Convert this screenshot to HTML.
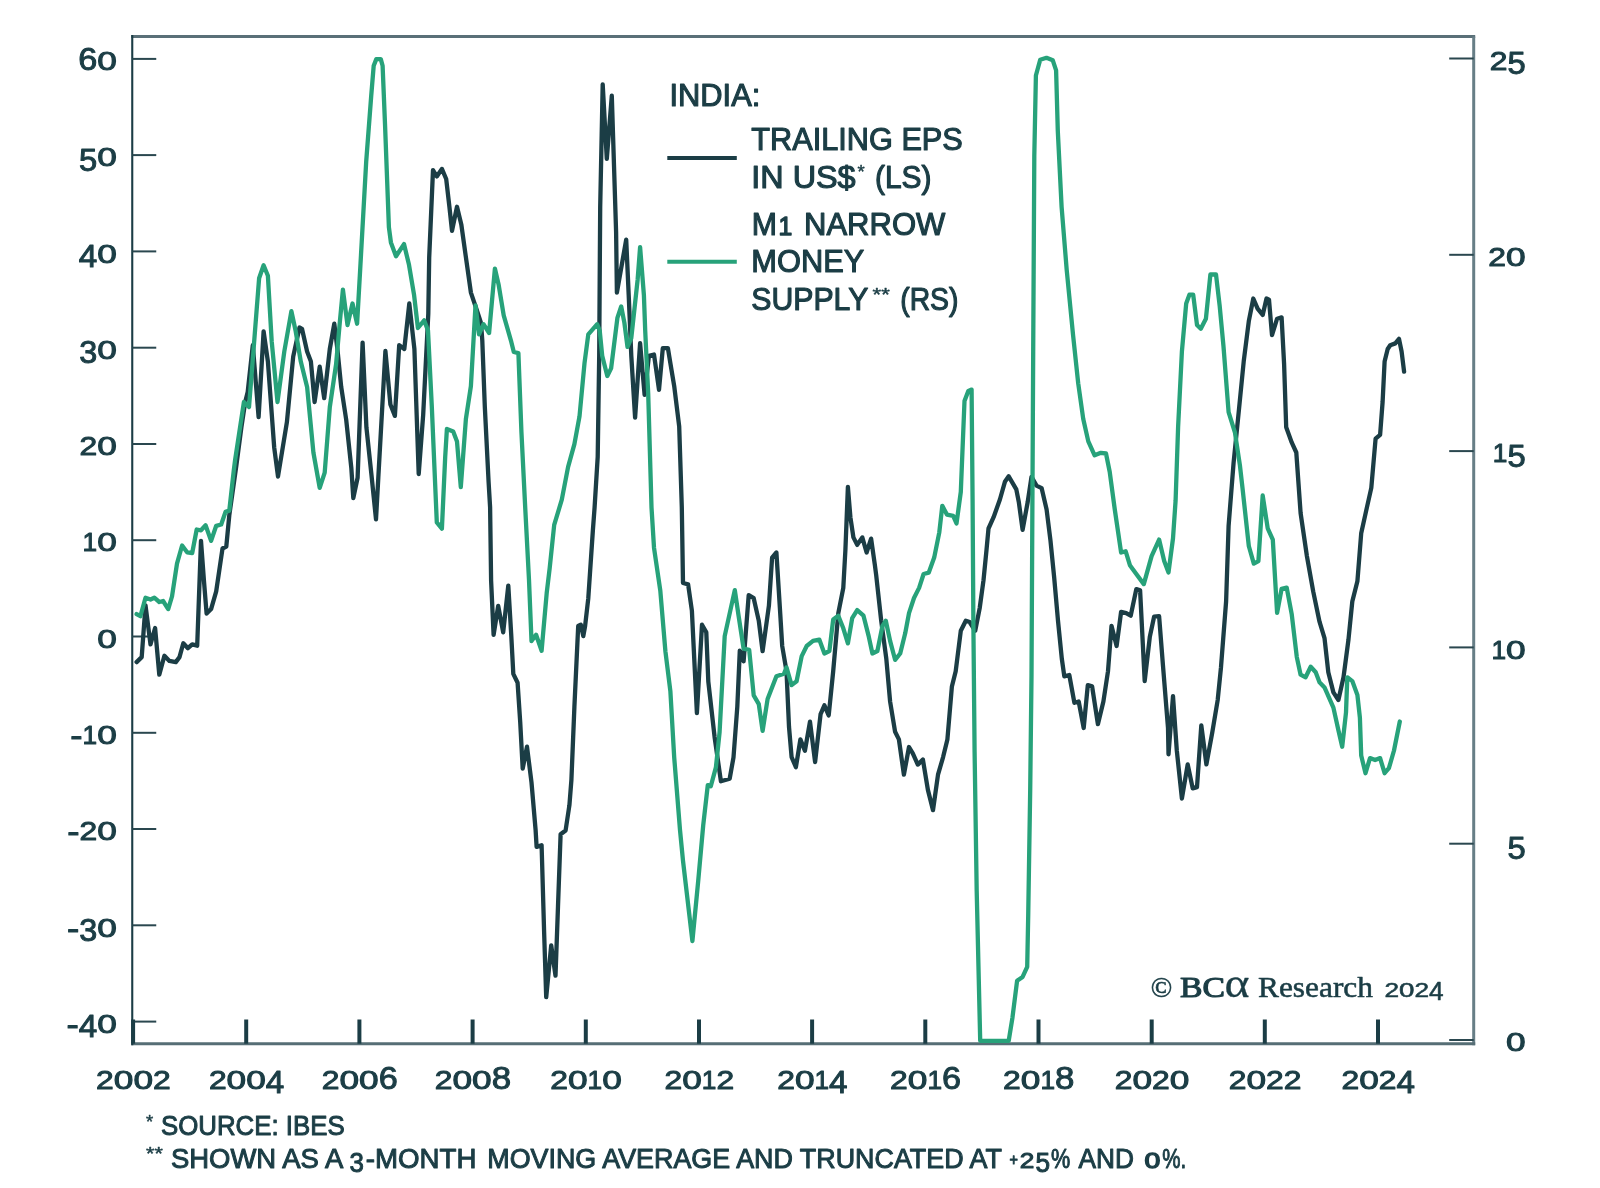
<!DOCTYPE html>
<html lang="en"><head><meta charset="utf-8"><title>India: Trailing EPS vs M1 Narrow Money Supply</title>
<style>html,body{margin:0;padding:0;background:#fff}svg{display:block;filter:blur(.45px)}text{font-family:"Liberation Sans", Arial, Helvetica, sans-serif;fill:#1b3d45}.t{stroke:#1b3d45;stroke-width:1.15px;paint-order:stroke fill;stroke-linejoin:round}.n{stroke:#1b3d45;stroke-width:1px;paint-order:stroke fill;stroke-linejoin:round}.f{stroke:#1b3d45;stroke-width:1px;paint-order:stroke fill;stroke-linejoin:round}.s{font-family:"Liberation Serif", "Times New Roman", serif}.c1{stroke:#1b3d45;stroke-width:.3px}.c2{stroke:#1b3d45;stroke-width:.55px}.c3{stroke:#1b3d45;stroke-width:1.1px;stroke-linejoin:round}</style></head><body>
<svg width="1600" height="1188" viewBox="0 0 1600 1188">
<rect width="1600" height="1188" fill="#ffffff"/>
<g fill="none" stroke-linecap="butt">
<line x1="131.25" y1="36.5" x2="1475.2" y2="36.5" stroke="#5a7078" stroke-width="3"/>
<line x1="1473.7" y1="36.5" x2="1473.7" y2="1045.2" stroke="#677e86" stroke-width="3"/>
<line x1="131.25" y1="1043.7" x2="1475.2" y2="1043.7" stroke="#566e75" stroke-width="3"/>
<line x1="132.25" y1="35.0" x2="132.25" y2="1045.2" stroke="#1b3d45" stroke-width="2.1"/>
<line x1="132.25" y1="1021.6" x2="156.25" y2="1021.6" stroke="#2a474f" stroke-width="2"/>
<line x1="132.25" y1="925.3" x2="156.25" y2="925.3" stroke="#2a474f" stroke-width="2"/>
<line x1="132.25" y1="829.0" x2="156.25" y2="829.0" stroke="#2a474f" stroke-width="2"/>
<line x1="132.25" y1="732.8" x2="156.25" y2="732.8" stroke="#2a474f" stroke-width="2"/>
<line x1="132.25" y1="636.5" x2="156.25" y2="636.5" stroke="#2a474f" stroke-width="2"/>
<line x1="132.25" y1="540.2" x2="156.25" y2="540.2" stroke="#2a474f" stroke-width="2"/>
<line x1="132.25" y1="444.0" x2="156.25" y2="444.0" stroke="#2a474f" stroke-width="2"/>
<line x1="132.25" y1="347.7" x2="156.25" y2="347.7" stroke="#2a474f" stroke-width="2"/>
<line x1="132.25" y1="251.4" x2="156.25" y2="251.4" stroke="#2a474f" stroke-width="2"/>
<line x1="132.25" y1="155.1" x2="156.25" y2="155.1" stroke="#2a474f" stroke-width="2"/>
<line x1="132.25" y1="58.9" x2="156.25" y2="58.9" stroke="#2a474f" stroke-width="2"/>
<line x1="1449.2" y1="1040.0" x2="1473.7" y2="1040.0" stroke="#2a474f" stroke-width="2"/>
<line x1="1449.2" y1="843.7" x2="1473.7" y2="843.7" stroke="#2a474f" stroke-width="2"/>
<line x1="1449.2" y1="647.4" x2="1473.7" y2="647.4" stroke="#2a474f" stroke-width="2"/>
<line x1="1449.2" y1="451.1" x2="1473.7" y2="451.1" stroke="#2a474f" stroke-width="2"/>
<line x1="1449.2" y1="254.8" x2="1473.7" y2="254.8" stroke="#2a474f" stroke-width="2"/>
<line x1="1449.2" y1="58.5" x2="1473.7" y2="58.5" stroke="#2a474f" stroke-width="2"/>
<line x1="133.1" y1="1019.5" x2="133.1" y2="1043.7" stroke="#1b3d45" stroke-width="4"/>
<line x1="246.2" y1="1019.5" x2="246.2" y2="1043.7" stroke="#1b3d45" stroke-width="4"/>
<line x1="359.4" y1="1019.5" x2="359.4" y2="1043.7" stroke="#1b3d45" stroke-width="4"/>
<line x1="472.6" y1="1019.5" x2="472.6" y2="1043.7" stroke="#1b3d45" stroke-width="4"/>
<line x1="585.8" y1="1019.5" x2="585.8" y2="1043.7" stroke="#1b3d45" stroke-width="4"/>
<line x1="699.0" y1="1019.5" x2="699.0" y2="1043.7" stroke="#1b3d45" stroke-width="4"/>
<line x1="812.1" y1="1019.5" x2="812.1" y2="1043.7" stroke="#1b3d45" stroke-width="4"/>
<line x1="925.3" y1="1019.5" x2="925.3" y2="1043.7" stroke="#1b3d45" stroke-width="4"/>
<line x1="1038.5" y1="1019.5" x2="1038.5" y2="1043.7" stroke="#1b3d45" stroke-width="4"/>
<line x1="1151.7" y1="1019.5" x2="1151.7" y2="1043.7" stroke="#1b3d45" stroke-width="4"/>
<line x1="1264.8" y1="1019.5" x2="1264.8" y2="1043.7" stroke="#1b3d45" stroke-width="4"/>
<line x1="1378.0" y1="1019.5" x2="1378.0" y2="1043.7" stroke="#1b3d45" stroke-width="4"/>
</g>
<path d="M136.6,662.1 L141.7,657.1 L145.5,605.3 L150.5,644.4 L155.1,628.0 L159.3,674.7 L164.4,655.8 L169.4,660.9 L175.8,662.1 L179.5,657.1 L183.3,643.2 L187.9,648.2 L192.2,644.4 L197.2,645.7 L201.0,540.9 L204.0,581.3 L206.6,613.6 L211.1,609.1 L216.2,591.4 L222.5,548.5 L226.3,546.5 L229.3,515.2 L236.4,465.2 L241.4,427.3 L245.2,402.0 L247.7,391.9 L252.8,345.2 L258.6,417.2 L263.6,331.3 L267.9,361.6 L274.2,447.5 L278.0,476.5 L286.9,422.2 L293.2,356.6 L299.5,327.5 L302.0,328.8 L307.1,351.5 L310.9,361.6 L314.6,402.0 L319.7,366.7 L324.2,398.2 L329.8,349.0 L334.3,323.7 L337.4,349.0 L341.2,386.9 L346.2,419.7 L351.3,467.7 L353.3,498.0 L357.6,477.8 L362.6,342.7 L366.4,427.3 L371.5,475.3 L376.0,519.4 L378.3,477.8 L385.4,351.0 L390.4,404.5 L394.9,415.9 L399.2,345.2 L404.3,349.0 L409.3,303.5 L414.4,349.0 L418.7,474.0 L423.2,414.6 L428.3,313.6 L429.2,257.3 L433.0,170.2 L436.8,176.5 L441.9,168.9 L446.2,179.0 L449.4,206.8 L452.0,230.8 L457.0,206.8 L461.3,224.4 L465.9,257.3 L470.9,292.6 L476.0,307.8 L481.0,322.9 L482.3,340.6 L484.8,406.3 L488.6,482.0 L490.1,507.3 L491.1,580.5 L493.6,634.8 L498.2,605.8 L503.2,632.3 L508.3,585.6 L511.3,636.1 L513.3,673.9 L517.6,682.8 L520.2,721.9 L522.7,768.6 L527.0,746.7 L531.5,782.5 L535.6,830.0 L536.6,846.9 L541.6,845.2 L544.1,931.5 L546.2,997.2 L551.2,945.4 L555.5,975.7 L558.0,906.3 L560.6,834.3 L565.6,830.5 L569.4,805.3 L571.4,780.0 L574.4,706.8 L578.2,626.0 L580.8,624.7 L583.3,636.1 L585.1,626.0 L588.3,598.2 L592.9,530.0 L594.6,507.3 L597.7,456.8 L599.2,355.8 L599.7,280.0 L600.2,206.8 L602.7,84.3 L606.8,158.8 L611.8,95.7 L616.1,232.0 L616.9,292.6 L626.2,239.6 L628.7,295.2 L631.3,355.8 L635.1,417.6 L640.1,343.1 L644.6,394.9 L648.9,355.8 L654.0,354.5 L659.0,389.8 L662.8,348.2 L667.9,348.2 L670.4,363.3 L674.2,386.1 L679.2,426.5 L681.8,507.3 L683.0,583.0 L688.1,584.3 L691.9,610.8 L696.9,713.1 L702.0,624.7 L706.3,632.3 L708.3,681.5 L714.6,737.1 L720.9,781.3 L729.7,778.7 L733.5,757.3 L737.3,706.8 L739.8,650.7 L743.6,661.3 L748.7,595.2 L753.7,598.2 L758.8,620.9 L762.6,651.2 L768.9,605.8 L772.1,557.6 L776.4,552.5 L780.2,613.1 L782.2,646.0 L786.5,671.2 L789.0,726.8 L791.6,757.1 L795.9,767.2 L800.4,739.4 L804.9,750.8 L810.0,721.7 L815.1,762.1 L820.6,714.1 L824.4,705.3 L828.7,715.4 L833.2,671.2 L838.3,613.1 L843.3,587.9 L845.4,550.0 L847.9,486.9 L850.4,517.2 L853.4,537.4 L857.2,544.9 L862.3,537.4 L866.6,552.5 L871.1,538.6 L874.9,565.2 L876.2,575.3 L881.2,620.7 L886.3,658.6 L890.1,701.5 L895.1,731.8 L898.9,739.4 L903.9,774.7 L909.0,747.0 L912.8,753.3 L917.8,764.6 L922.9,759.6 L927.9,789.9 L933.0,810.1 L938.0,774.7 L943.1,757.1 L947.4,739.4 L951.9,686.4 L955.7,671.2 L960.8,630.8 L965.8,620.7 L969.6,622.0 L975.2,630.8 L979.7,608.1 L983.5,580.3 L986.5,550.0 L988.5,528.5 L993.6,517.2 L999.9,499.5 L1004.9,481.8 L1008.7,476.3 L1016.3,489.4 L1018.8,502.0 L1022.6,529.8 L1027.7,502.0 L1031.5,476.8 L1036.5,485.6 L1041.6,488.1 L1046.6,509.6 L1050.4,539.9 L1054.2,577.8 L1058.0,620.7 L1061.8,658.6 L1064.3,676.3 L1069.3,675.0 L1074.4,702.8 L1078.7,701.5 L1083.7,728.0 L1087.8,685.1 L1092.1,686.4 L1097.9,724.2 L1103.4,701.5 L1108.0,671.2 L1111.5,625.8 L1116.6,646.0 L1121.1,611.9 L1126.2,613.1 L1130.7,615.7 L1136.3,589.1 L1140.1,590.4 L1144.7,681.1 L1149.8,636.9 L1154.1,616.7 L1159.1,616.2 L1162.9,664.6 L1168.0,727.8 L1168.5,754.3 L1173.0,696.2 L1176.8,750.5 L1181.9,798.5 L1187.7,764.4 L1192.7,788.4 L1197.0,787.1 L1201.3,725.3 L1206.4,764.4 L1212.2,732.8 L1217.7,700.0 L1221.0,667.2 L1226.1,601.5 L1228.6,525.8 L1233.6,462.6 L1238.7,412.1 L1243.7,361.6 L1248.8,321.2 L1253.3,298.5 L1257.6,308.6 L1262.7,314.9 L1266.5,298.5 L1269.0,299.7 L1272.0,335.1 L1277.1,318.7 L1281.6,317.4 L1284.1,364.1 L1286.2,427.3 L1291.7,442.4 L1296.3,452.5 L1300.6,513.1 L1306.9,556.1 L1313.2,591.4 L1319.5,621.7 L1324.5,638.1 L1328.3,672.2 L1333.4,692.4 L1338.4,700.0 L1343.5,677.3 L1348.5,639.4 L1352.3,601.5 L1357.4,581.3 L1361.2,533.3 L1366.2,510.6 L1371.3,487.9 L1375.6,438.6 L1380.1,434.8 L1382.6,402.0 L1384.6,361.6 L1387.7,349.0 L1390.2,345.2 L1395.3,343.4 L1399.0,338.9 L1401.6,351.5 L1404.1,371.7" fill="none" stroke="#1b3d45" stroke-width="4.3" stroke-linejoin="round" stroke-linecap="round"/>
<path d="M136.6,614.1 L140.4,616.2 L145.5,597.7 L150.5,599.5 L154.3,597.7 L159.3,602.0 L163.1,601.0 L168.2,609.1 L172.0,596.5 L177.0,563.6 L182.1,545.5 L187.1,552.3 L192.2,553.0 L196.7,529.5 L201.0,530.3 L205.6,525.3 L211.1,540.9 L216.2,525.8 L221.2,524.5 L225.5,511.9 L229.3,510.6 L233.8,470.2 L235.1,460.1 L243.9,402.0 L249.0,407.1 L254.0,343.9 L259.1,278.3 L263.6,265.2 L267.9,275.8 L271.7,341.4 L277.5,402.0 L284.3,351.5 L291.4,311.1 L295.7,331.3 L300.8,361.6 L307.1,386.9 L313.4,452.5 L319.7,487.9 L324.7,472.7 L329.8,407.1 L336.1,364.1 L339.9,321.2 L342.9,289.6 L347.5,325.0 L352.5,303.5 L357.1,323.7 L360.4,265.7 L366.2,161.6 L371.2,96.0 L373.7,65.7 L376.3,59.1 L380.8,59.1 L382.6,65.7 L385.1,126.3 L388.9,227.3 L390.9,242.4 L396.0,256.3 L404.0,244.1 L409.0,264.8 L414.1,295.2 L417.9,328.0 L424.2,320.4 L428.0,330.5 L431.8,406.3 L436.8,522.4 L441.9,528.7 L445.2,456.8 L446.9,429.0 L453.2,431.5 L457.0,441.6 L460.8,487.1 L465.9,418.9 L470.9,386.1 L475.5,305.3 L479.0,334.3 L483.5,324.2 L489.1,333.0 L494.9,268.6 L498.7,285.1 L503.7,315.4 L511.3,341.9 L513.8,352.0 L518.4,353.2 L521.4,431.5 L525.2,507.3 L529.0,580.0 L531.5,641.1 L536.1,634.8 L541.6,650.7 L546.7,593.1 L549.7,567.9 L554.2,524.9 L561.8,499.7 L568.1,466.9 L574.4,444.1 L579.5,416.4 L584.5,363.3 L588.3,334.3 L597.2,324.2 L599.7,330.5 L602.2,355.8 L607.3,376.0 L611.1,368.4 L617.4,317.9 L621.2,306.5 L624.4,322.9 L627.5,346.9 L631.3,338.1 L637.6,280.0 L640.1,247.2 L643.9,295.2 L645.2,330.5 L648.2,393.6 L651.5,507.3 L654.0,547.7 L660.3,590.6 L665.4,651.2 L670.4,691.6 L674.2,757.3 L680.0,830.0 L683.0,860.8 L692.4,941.1 L698.2,881.0 L703.2,825.5 L707.8,785.1 L710.8,786.3 L715.9,767.4 L719.6,732.0 L724.7,636.1 L734.8,590.1 L738.6,615.9 L743.6,648.7 L749.2,649.9 L753.7,695.4 L758.8,704.2 L762.6,730.8 L767.6,699.0 L776.4,676.3 L784.0,673.7 L786.5,667.4 L791.6,685.1 L796.6,681.3 L801.7,656.1 L806.7,646.0 L813.0,640.9 L819.3,639.6 L824.4,653.5 L829.4,651.0 L833.2,619.4 L838.3,615.7 L843.3,628.3 L847.9,643.4 L852.2,618.2 L857.2,610.1 L863.5,615.7 L868.6,635.9 L872.4,653.5 L877.4,651.0 L882.5,625.8 L885.8,620.7 L890.1,640.9 L895.1,659.8 L900.2,653.5 L905.2,633.3 L909.0,613.1 L914.0,598.0 L919.1,587.9 L923.6,574.0 L928.7,572.7 L934.2,557.6 L939.3,532.3 L942.3,505.8 L946.9,514.6 L953.2,515.9 L956.5,523.5 L960.8,491.9 L964.5,401.0 L968.3,390.9 L971.6,389.6 L972.6,502.0 L973.4,625.8 L974.6,752.0 L976.7,891.0 L980.2,1040.8 L1008.7,1040.8 L1012.5,1017.3 L1017.1,980.7 L1022.6,976.9 L1027.2,966.8 L1028.2,916.3 L1030.2,790.0 L1031.5,676.3 L1033.2,350.5 L1034.3,156.3 L1035.9,75.5 L1040.2,59.8 L1046.5,57.8 L1052.8,60.3 L1056.1,70.4 L1057.8,131.0 L1061.6,206.8 L1066.7,269.9 L1073.1,335.4 L1078.2,383.3 L1083.2,418.7 L1088.3,441.4 L1094.6,455.3 L1100.9,452.8 L1106.0,453.5 L1109.7,471.7 L1114.8,509.6 L1121.1,552.5 L1125.7,551.3 L1129.9,565.2 L1136.3,574.0 L1143.8,584.1 L1151.6,556.1 L1159.1,539.6 L1164.2,561.1 L1168.5,572.5 L1173.0,538.4 L1175.6,500.5 L1178.1,427.3 L1181.9,351.5 L1186.2,303.5 L1189.4,294.7 L1193.2,294.7 L1197.0,325.0 L1200.8,328.8 L1205.9,318.7 L1210.4,274.5 L1216.0,274.5 L1219.7,306.1 L1223.5,346.5 L1228.6,412.1 L1234.9,432.3 L1239.9,465.2 L1242.5,487.9 L1248.8,546.0 L1253.8,563.6 L1258.4,561.1 L1262.7,495.5 L1267.7,528.3 L1272.8,539.6 L1277.1,612.9 L1281.6,588.9 L1286.7,587.6 L1291.7,614.1 L1296.8,657.1 L1300.6,674.7 L1305.6,677.3 L1310.7,666.7 L1315.7,672.2 L1319.5,682.3 L1324.5,687.4 L1333.4,707.6 L1338.4,730.3 L1342.2,746.7 L1346.0,712.6 L1347.3,677.3 L1352.3,681.1 L1357.4,694.9 L1359.9,717.7 L1361.2,755.6 L1365.5,773.2 L1370.0,758.1 L1375.1,760.1 L1380.1,758.1 L1384.6,773.2 L1388.9,768.2 L1394.0,750.5 L1399.8,721.5" fill="none" stroke="#27a27a" stroke-width="4.3" stroke-linejoin="round" stroke-linecap="round"/>
<line x1="667.3" y1="158" x2="736.8" y2="158" stroke="#1b3d45" stroke-width="4"/>
<line x1="667.3" y1="261.8" x2="736.8" y2="261.8" stroke="#27a27a" stroke-width="4"/>
<text class="t" x="669.5" y="105.9" font-size="31.3" text-anchor="start" textLength="90.8" lengthAdjust="spacingAndGlyphs">INDIA:</text>
<text class="t" x="751.3" y="149.8" font-size="31.3" text-anchor="start" textLength="211.5" lengthAdjust="spacingAndGlyphs">TRAILING EPS</text>
<text class="t" font-size="31.3"><tspan x="751.3" y="187.6" font-size="31.30" textLength="104.3" lengthAdjust="spacingAndGlyphs">IN US$</tspan><tspan x="857.4" y="178.4" font-size="17.60" stroke-width=".45" textLength="7.2" lengthAdjust="spacingAndGlyphs">*</tspan><tspan> </tspan><tspan x="875.0" y="187.6" font-size="31.30" textLength="56.5" lengthAdjust="spacingAndGlyphs">(LS)</tspan></text>
<text class="t" font-size="31.3"><tspan x="751.8" y="234.5" font-size="31.30" textLength="25.2" lengthAdjust="spacingAndGlyphs">M</tspan><tspan x="778.6" y="234.5" font-size="25.67" stroke-width="1.35" textLength="13.8" lengthAdjust="spacingAndGlyphs">1</tspan><tspan> </tspan><tspan x="804.0" y="234.5" font-size="31.30" textLength="141.3" lengthAdjust="spacingAndGlyphs">NARROW</tspan></text>
<text class="t" x="751.3" y="272.3" font-size="31.3" text-anchor="start" textLength="113.0" lengthAdjust="spacingAndGlyphs">MONEY</text>
<text class="t" font-size="31.3"><tspan x="751.3" y="310.1" font-size="31.30" textLength="117.0" lengthAdjust="spacingAndGlyphs">SUPPLY</tspan><tspan x="872.6" y="300.9" font-size="17.60" stroke-width=".45" textLength="17.2" lengthAdjust="spacingAndGlyphs">**</tspan><tspan> </tspan><tspan x="900.2" y="310.1" font-size="31.30" textLength="58.3" lengthAdjust="spacingAndGlyphs">(RS)</tspan></text>
<text class="n" x="66.4" y="1032.8" font-size="31.6"><tspan font-size="31.60" textLength="12.3" lengthAdjust="spacingAndGlyphs" dy="2.20">-</tspan><tspan font-size="31.60" textLength="18.5" lengthAdjust="spacingAndGlyphs" dy="2.15">4</tspan><tspan font-size="26.70" textLength="19.6" lengthAdjust="spacingAndGlyphs" dy="-4.35">0</tspan></text>
<text class="n" x="66.9" y="936.5" font-size="31.6"><tspan font-size="31.60" textLength="12.3" lengthAdjust="spacingAndGlyphs" dy="2.20">-</tspan><tspan font-size="31.60" textLength="18.0" lengthAdjust="spacingAndGlyphs" dy="2.15">3</tspan><tspan font-size="26.70" textLength="19.6" lengthAdjust="spacingAndGlyphs" dy="-4.35">0</tspan></text>
<text class="n" x="67.2" y="840.2" font-size="31.6"><tspan font-size="31.60" textLength="12.3" lengthAdjust="spacingAndGlyphs" dy="2.20">-</tspan><tspan font-size="26.70" textLength="17.7" lengthAdjust="spacingAndGlyphs" dy="-2.20">2</tspan><tspan font-size="26.70" textLength="19.6" lengthAdjust="spacingAndGlyphs">0</tspan></text>
<text class="n" x="70.3" y="744.0" font-size="31.6"><tspan font-size="31.60" textLength="12.3" lengthAdjust="spacingAndGlyphs" dy="2.20">-</tspan><tspan font-size="26.70" textLength="14.6" lengthAdjust="spacingAndGlyphs" dy="-2.20">1</tspan><tspan font-size="26.70" textLength="19.6" lengthAdjust="spacingAndGlyphs">0</tspan></text>
<text class="n" x="97.2" y="647.7" font-size="31.6"><tspan font-size="26.70" textLength="19.6" lengthAdjust="spacingAndGlyphs">0</tspan></text>
<text class="n" x="82.6" y="551.4" font-size="31.6"><tspan font-size="26.70" textLength="14.6" lengthAdjust="spacingAndGlyphs">1</tspan><tspan font-size="26.70" textLength="19.6" lengthAdjust="spacingAndGlyphs">0</tspan></text>
<text class="n" x="79.5" y="455.2" font-size="31.6"><tspan font-size="26.70" textLength="17.7" lengthAdjust="spacingAndGlyphs">2</tspan><tspan font-size="26.70" textLength="19.6" lengthAdjust="spacingAndGlyphs">0</tspan></text>
<text class="n" x="79.2" y="358.9" font-size="31.6"><tspan font-size="31.60" textLength="18.0" lengthAdjust="spacingAndGlyphs" dy="4.35">3</tspan><tspan font-size="26.70" textLength="19.6" lengthAdjust="spacingAndGlyphs" dy="-4.35">0</tspan></text>
<text class="n" x="78.7" y="262.6" font-size="31.6"><tspan font-size="31.60" textLength="18.5" lengthAdjust="spacingAndGlyphs" dy="4.35">4</tspan><tspan font-size="26.70" textLength="19.6" lengthAdjust="spacingAndGlyphs" dy="-4.35">0</tspan></text>
<text class="n" x="79.0" y="166.3" font-size="31.6"><tspan font-size="31.60" textLength="18.2" lengthAdjust="spacingAndGlyphs" dy="4.35">5</tspan><tspan font-size="26.70" textLength="19.6" lengthAdjust="spacingAndGlyphs" dy="-4.35">0</tspan></text>
<text class="n" x="78.2" y="70.1" font-size="31.6"><tspan font-size="31.60" textLength="19.0" lengthAdjust="spacingAndGlyphs">6</tspan><tspan font-size="26.70" textLength="19.6" lengthAdjust="spacingAndGlyphs">0</tspan></text>
<text class="n" x="1506.0" y="1051.3" font-size="31.6"><tspan font-size="26.70" textLength="19.6" lengthAdjust="spacingAndGlyphs">0</tspan></text>
<text class="n" x="1507.4" y="855.0" font-size="31.6"><tspan font-size="31.60" textLength="18.2" lengthAdjust="spacingAndGlyphs" dy="4.35">5</tspan></text>
<text class="n" x="1491.4" y="658.7" font-size="31.6"><tspan font-size="26.70" textLength="14.6" lengthAdjust="spacingAndGlyphs">1</tspan><tspan font-size="26.70" textLength="19.6" lengthAdjust="spacingAndGlyphs">0</tspan></text>
<text class="n" x="1492.8" y="462.4" font-size="31.6"><tspan font-size="26.70" textLength="14.6" lengthAdjust="spacingAndGlyphs">1</tspan><tspan font-size="31.60" textLength="18.2" lengthAdjust="spacingAndGlyphs" dy="4.35">5</tspan></text>
<text class="n" x="1488.3" y="266.1" font-size="31.6"><tspan font-size="26.70" textLength="17.7" lengthAdjust="spacingAndGlyphs">2</tspan><tspan font-size="26.70" textLength="19.6" lengthAdjust="spacingAndGlyphs">0</tspan></text>
<text class="n" x="1489.7" y="69.8" font-size="31.6"><tspan font-size="26.70" textLength="17.7" lengthAdjust="spacingAndGlyphs">2</tspan><tspan font-size="31.60" textLength="18.2" lengthAdjust="spacingAndGlyphs" dy="4.35">5</tspan></text>
<text class="n" x="96.1" y="1089.1" font-size="31.6"><tspan font-size="26.70" textLength="17.7" lengthAdjust="spacingAndGlyphs">2</tspan><tspan font-size="26.70" textLength="19.6" lengthAdjust="spacingAndGlyphs">0</tspan><tspan font-size="26.70" textLength="19.6" lengthAdjust="spacingAndGlyphs">0</tspan><tspan font-size="26.70" textLength="17.7" lengthAdjust="spacingAndGlyphs">2</tspan></text>
<text class="n" x="208.9" y="1089.1" font-size="31.6"><tspan font-size="26.70" textLength="17.7" lengthAdjust="spacingAndGlyphs">2</tspan><tspan font-size="26.70" textLength="19.6" lengthAdjust="spacingAndGlyphs">0</tspan><tspan font-size="26.70" textLength="19.6" lengthAdjust="spacingAndGlyphs">0</tspan><tspan font-size="31.60" textLength="18.5" lengthAdjust="spacingAndGlyphs" dy="4.35">4</tspan></text>
<text class="n" x="321.8" y="1089.1" font-size="31.6"><tspan font-size="26.70" textLength="17.7" lengthAdjust="spacingAndGlyphs">2</tspan><tspan font-size="26.70" textLength="19.6" lengthAdjust="spacingAndGlyphs">0</tspan><tspan font-size="26.70" textLength="19.6" lengthAdjust="spacingAndGlyphs">0</tspan><tspan font-size="31.60" textLength="19.0" lengthAdjust="spacingAndGlyphs">6</tspan></text>
<text class="n" x="434.8" y="1089.1" font-size="31.6"><tspan font-size="26.70" textLength="17.7" lengthAdjust="spacingAndGlyphs">2</tspan><tspan font-size="26.70" textLength="19.6" lengthAdjust="spacingAndGlyphs">0</tspan><tspan font-size="26.70" textLength="19.6" lengthAdjust="spacingAndGlyphs">0</tspan><tspan font-size="31.60" textLength="19.4" lengthAdjust="spacingAndGlyphs">8</tspan></text>
<text class="n" x="550.3" y="1089.1" font-size="31.6"><tspan font-size="26.70" textLength="17.7" lengthAdjust="spacingAndGlyphs">2</tspan><tspan font-size="26.70" textLength="19.6" lengthAdjust="spacingAndGlyphs">0</tspan><tspan font-size="26.70" textLength="14.6" lengthAdjust="spacingAndGlyphs">1</tspan><tspan font-size="26.70" textLength="19.6" lengthAdjust="spacingAndGlyphs">0</tspan></text>
<text class="n" x="664.5" y="1089.1" font-size="31.6"><tspan font-size="26.70" textLength="17.7" lengthAdjust="spacingAndGlyphs">2</tspan><tspan font-size="26.70" textLength="19.6" lengthAdjust="spacingAndGlyphs">0</tspan><tspan font-size="26.70" textLength="14.6" lengthAdjust="spacingAndGlyphs">1</tspan><tspan font-size="26.70" textLength="17.7" lengthAdjust="spacingAndGlyphs">2</tspan></text>
<text class="n" x="777.2" y="1089.1" font-size="31.6"><tspan font-size="26.70" textLength="17.7" lengthAdjust="spacingAndGlyphs">2</tspan><tspan font-size="26.70" textLength="19.6" lengthAdjust="spacingAndGlyphs">0</tspan><tspan font-size="26.70" textLength="14.6" lengthAdjust="spacingAndGlyphs">1</tspan><tspan font-size="31.60" textLength="18.5" lengthAdjust="spacingAndGlyphs" dy="4.35">4</tspan></text>
<text class="n" x="890.1" y="1089.1" font-size="31.6"><tspan font-size="26.70" textLength="17.7" lengthAdjust="spacingAndGlyphs">2</tspan><tspan font-size="26.70" textLength="19.6" lengthAdjust="spacingAndGlyphs">0</tspan><tspan font-size="26.70" textLength="14.6" lengthAdjust="spacingAndGlyphs">1</tspan><tspan font-size="31.60" textLength="19.0" lengthAdjust="spacingAndGlyphs">6</tspan></text>
<text class="n" x="1003.1" y="1089.1" font-size="31.6"><tspan font-size="26.70" textLength="17.7" lengthAdjust="spacingAndGlyphs">2</tspan><tspan font-size="26.70" textLength="19.6" lengthAdjust="spacingAndGlyphs">0</tspan><tspan font-size="26.70" textLength="14.6" lengthAdjust="spacingAndGlyphs">1</tspan><tspan font-size="31.60" textLength="19.4" lengthAdjust="spacingAndGlyphs">8</tspan></text>
<text class="n" x="1114.7" y="1089.1" font-size="31.6"><tspan font-size="26.70" textLength="17.7" lengthAdjust="spacingAndGlyphs">2</tspan><tspan font-size="26.70" textLength="19.6" lengthAdjust="spacingAndGlyphs">0</tspan><tspan font-size="26.70" textLength="17.7" lengthAdjust="spacingAndGlyphs">2</tspan><tspan font-size="26.70" textLength="19.6" lengthAdjust="spacingAndGlyphs">0</tspan></text>
<text class="n" x="1228.8" y="1089.1" font-size="31.6"><tspan font-size="26.70" textLength="17.7" lengthAdjust="spacingAndGlyphs">2</tspan><tspan font-size="26.70" textLength="19.6" lengthAdjust="spacingAndGlyphs">0</tspan><tspan font-size="26.70" textLength="17.7" lengthAdjust="spacingAndGlyphs">2</tspan><tspan font-size="26.70" textLength="17.7" lengthAdjust="spacingAndGlyphs">2</tspan></text>
<text class="n" x="1341.5" y="1089.1" font-size="31.6"><tspan font-size="26.70" textLength="17.7" lengthAdjust="spacingAndGlyphs">2</tspan><tspan font-size="26.70" textLength="19.6" lengthAdjust="spacingAndGlyphs">0</tspan><tspan font-size="26.70" textLength="17.7" lengthAdjust="spacingAndGlyphs">2</tspan><tspan font-size="31.60" textLength="18.5" lengthAdjust="spacingAndGlyphs" dy="4.35">4</tspan></text>
<text class="s" stroke="#1b3d45" stroke-linejoin="round" font-size="29.8"><tspan x="1150.8" y="996.8" font-size="26.5" textLength="21.5" lengthAdjust="spacingAndGlyphs" stroke-width=".55">©</tspan><tspan> </tspan><tspan x="1180.0" y="996.6" font-size="29.8" textLength="45.0" lengthAdjust="spacingAndGlyphs" stroke-width="1.1">BC</tspan><tspan x="1224.5" y="996.6" font-size="41.5" textLength="25.0" lengthAdjust="spacingAndGlyphs" stroke-width=".3">α</tspan><tspan> </tspan><tspan x="1258.0" y="996.6" font-size="29.8" textLength="115.0" lengthAdjust="spacingAndGlyphs" stroke-width=".55">Research</tspan><tspan> </tspan><tspan x="1384.4" y="996.6" font-size="20.40" textLength="14.6" lengthAdjust="spacingAndGlyphs" stroke-width=".55" style="font-family:'Liberation Sans',Arial,Helvetica,sans-serif">2</tspan><tspan x="1399.0" y="996.6" font-size="20.40" textLength="15.4" lengthAdjust="spacingAndGlyphs" stroke-width=".55" style="font-family:'Liberation Sans',Arial,Helvetica,sans-serif">0</tspan><tspan x="1414.4" y="996.6" font-size="20.40" textLength="14.6" lengthAdjust="spacingAndGlyphs" stroke-width=".55" style="font-family:'Liberation Sans',Arial,Helvetica,sans-serif">2</tspan><tspan x="1429.0" y="1000.1" font-size="25.50" textLength="14.6" lengthAdjust="spacingAndGlyphs" stroke-width=".55" style="font-family:'Liberation Sans',Arial,Helvetica,sans-serif">4</tspan></text>
<text class="f" font-size="27.0"><tspan x="146.0" y="1127.5" font-size="17.60" stroke-width=".45" textLength="7.2" lengthAdjust="spacingAndGlyphs">*</tspan><tspan> </tspan><tspan x="161.0" y="1135.3" font-size="27.00" textLength="183.6" lengthAdjust="spacingAndGlyphs">SOURCE: IBES</tspan></text>
<text class="f" font-size="27.0"><tspan x="146.0" y="1160.1" font-size="17.60" stroke-width=".45" textLength="16.8" lengthAdjust="spacingAndGlyphs">**</tspan><tspan> </tspan><tspan x="171.0" y="1167.9" font-size="27.00" textLength="170.8" lengthAdjust="spacingAndGlyphs">SHOWN AS A</tspan><tspan> </tspan><tspan x="349.6" y="1171.6" font-size="27.00" textLength="14.4" lengthAdjust="spacingAndGlyphs">3</tspan><tspan x="365.8" y="1167.9" font-size="27.00" textLength="110.6" lengthAdjust="spacingAndGlyphs">-MONTH</tspan><tspan> </tspan><tspan x="487.3" y="1167.9" font-size="27.00" textLength="514.1" lengthAdjust="spacingAndGlyphs">MOVING AVERAGE AND TRUNCATED AT</tspan><tspan> </tspan><tspan x="1009.6" y="1164.7" font-size="16.74" textLength="8.4" lengthAdjust="spacingAndGlyphs">+</tspan><tspan x="1019.8" y="1167.9" font-size="22.14" textLength="14.6" lengthAdjust="spacingAndGlyphs">2</tspan><tspan x="1035.6" y="1171.6" font-size="27.00" textLength="14.6" lengthAdjust="spacingAndGlyphs">5</tspan><tspan x="1051.0" y="1167.9" font-size="27.00" textLength="19.2" lengthAdjust="spacingAndGlyphs">%</tspan><tspan> </tspan><tspan x="1078.6" y="1167.9" font-size="27.00" textLength="55.4" lengthAdjust="spacingAndGlyphs">AND</tspan><tspan> </tspan><tspan x="1144.6" y="1167.9" font-size="22.14" stroke-width="1.35" textLength="15.8" lengthAdjust="spacingAndGlyphs">0</tspan><tspan x="1162.3" y="1167.9" font-size="27.00" textLength="23.9" lengthAdjust="spacingAndGlyphs">%.</tspan></text>
</svg></body></html>
